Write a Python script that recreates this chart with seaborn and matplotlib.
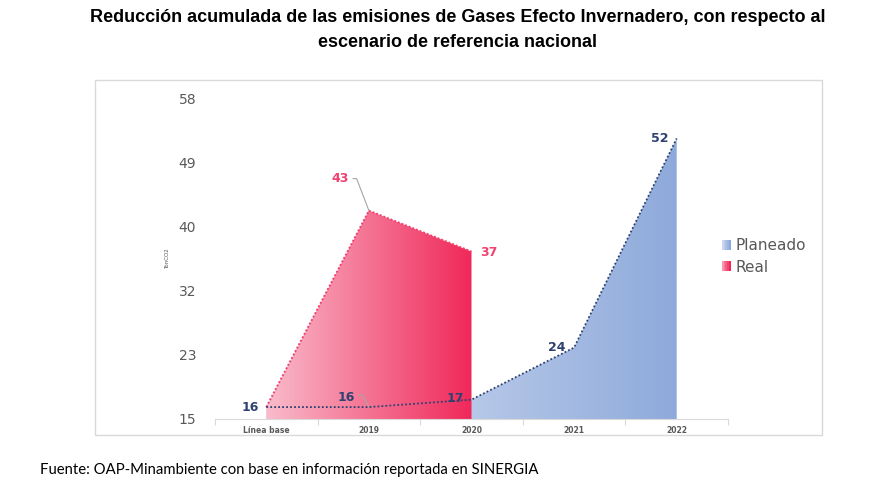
import numpy as np
import matplotlib
matplotlib.use('Agg')
import matplotlib.pyplot as plt
import seaborn as sns
from matplotlib.colors import LinearSegmentedColormap, to_rgb
from matplotlib.patches import Polygon, Patch, Rectangle
from matplotlib.legend_handler import HandlerTuple

# data
categories = ['Línea base', '2019', '2020', '2021', '2022']
planeado = [16.6, 16.6, 17.6, 24.6, 52.7]
real = [16.6, 43.0, 37.5]
y_min, y_max = 15, 58

navy = '#2e4272'
pink = '#f0416f'
grey = '#595959'
real_colors = ('#f9bccb', '#f0285a')
plan_colors = ('#e0e6f5', '#8eaadb')

sns.set_theme(style='white')
plt.rcParams['font.family'] = ['DejaVu Sans']

fig = plt.figure(figsize=(8.88, 4.84), dpi=100)
ax = fig.add_axes([215 / 888, 1 - 419 / 484, 513 / 888, 320 / 484])


def gradient_area(ax, xs, ys, colors, z):
    verts = [(xs[0], y_min)] + list(zip(xs, ys)) + [(xs[-1], y_min)]
    clip = Polygon(verts, closed=True, transform=ax.transData, fc='none', ec='none')
    ax.add_patch(clip)
    cmap = LinearSegmentedColormap.from_list('g', colors)
    img = ax.imshow(np.linspace(0, 1, 256).reshape(1, -1), cmap=cmap, aspect='auto',
                    extent=[xs[0], xs[-1], y_min, max(ys)], origin='lower',
                    interpolation='bilinear', zorder=z)
    img.set_clip_path(clip)


x_plan = list(range(len(planeado)))
x_real = list(range(len(real)))

gradient_area(ax, x_plan, planeado, plan_colors, 1)
gradient_area(ax, x_real, real, real_colors, 2)

# dotted outlines
sns.lineplot(x=x_real, y=real, ax=ax, color=pink, lw=1.4, linestyle=(0, (1, 1)), zorder=3)
sns.lineplot(x=x_plan, y=planeado, ax=ax, color=navy, lw=1.3, linestyle=(0, (1, 1.2)), zorder=4)

# data labels
lab = dict(fontsize=9, fontweight='bold', textcoords='offset pixels', va='center', zorder=6)
plan_offsets = [(-16, 0), (-23, 10), (-16, 1), (-17, 0), (-17, 0)]
for i, v in enumerate(planeado):
    ax.annotate(str(int(v)), (i, v), xytext=plan_offsets[i], ha='center', color=navy, **lab)
ax.annotate(str(int(real[1])), (1, real[1]), xytext=(-29, 32), ha='center', color=pink, **lab)
ax.annotate(str(int(real[2])), (2, real[2]), xytext=(17, -1), ha='center', color=pink, **lab)

# leader lines
ax.annotate('', (1, real[1]), xytext=(-16, 32), textcoords='offset pixels',
            arrowprops=dict(arrowstyle='-', color='#a6a6a6', lw=0.8, shrinkA=0, shrinkB=0,
                            connectionstyle='angle,angleA=0,angleB=111,rad=0'))
ax.annotate('', (1, planeado[1]), xytext=(-10, 12), textcoords='offset pixels',
            arrowprops=dict(arrowstyle='-', color='#a6a6a6', lw=0.8, shrinkA=0, shrinkB=0,
                            connectionstyle='angle,angleA=0,angleB=117,rad=0'))

# axes styling
ax.set_xlim(-0.5, len(categories) - 0.5)
ax.set_ylim(y_min, y_max)
ticks = np.linspace(y_min, y_max, 6)
ax.set_yticks(ticks)
ax.set_yticklabels([str(int(t)) for t in ticks], color=grey, fontsize=10)
ax.set_xticks(range(len(categories)))
ax.set_xticklabels(categories, color=grey, fontsize=5.5, fontweight='bold')
ax.set_xticks(np.arange(-0.5, len(categories)), minor=True)
ax.tick_params(axis='x', which='major', length=0, pad=5)
ax.tick_params(axis='x', which='minor', length=4, color='#d9d9d9', width=0.8, bottom=True)
ax.tick_params(axis='y', length=0, pad=13.5)
for s in ['top', 'right', 'left']:
    ax.spines[s].set_visible(False)
ax.spines['bottom'].set_color('#d9d9d9')
ax.spines['bottom'].set_linewidth(0.8)
ax.set_ylabel('TonCO2', fontsize=4, color=grey)
ax.yaxis.set_label_coords(-0.088, 0.5)
ax.set_xlabel('')
ax.patch.set_alpha(0)


def grad_handle(colors, n=5):
    c0, c1 = np.array(to_rgb(colors[0])), np.array(to_rgb(colors[1]))
    return tuple(Patch(color=tuple(c0 + (c1 - c0) * t), lw=0) for t in np.linspace(0.25, 1, n))


fig.legend([grad_handle(plan_colors), grad_handle(real_colors)], ['Planeado', 'Real'],
           handler_map={tuple: HandlerTuple(ndivide=None, pad=0)},
           loc='center left', bbox_to_anchor=(708 / 888, 1 - 256.5 / 484), frameon=False,
           fontsize=11, labelcolor=grey, handlelength=0.6, handleheight=0.6,
           handletextpad=0.3, labelspacing=0.4)

# frame around chart
fig.patches.append(Rectangle((95 / 888, 1 - 435 / 484), 727 / 888, 355 / 484,
                             transform=fig.transFigure, fill=False, ec='#d9d9d9', lw=1))

fig.text(458 / 888, 1 - 30 / 484,
         'Reducción acumulada de las emisiones de Gases Efecto Invernadero, con respecto al\n'
         'escenario de referencia nacional',
         ha='center', va='center', fontsize=13, fontweight='bold', color='black',
         family=['Liberation Sans'], linespacing=1.6)
fig.text(40 / 888, 1 - 470 / 484,
         'Fuente: OAP-Minambiente con base en información reportada en SINERGIA',
         ha='left', va='center', fontsize=10.7, color='black', family=['Lato', 'DejaVu Sans'])

fig.savefig('out.png', dpi=100)
